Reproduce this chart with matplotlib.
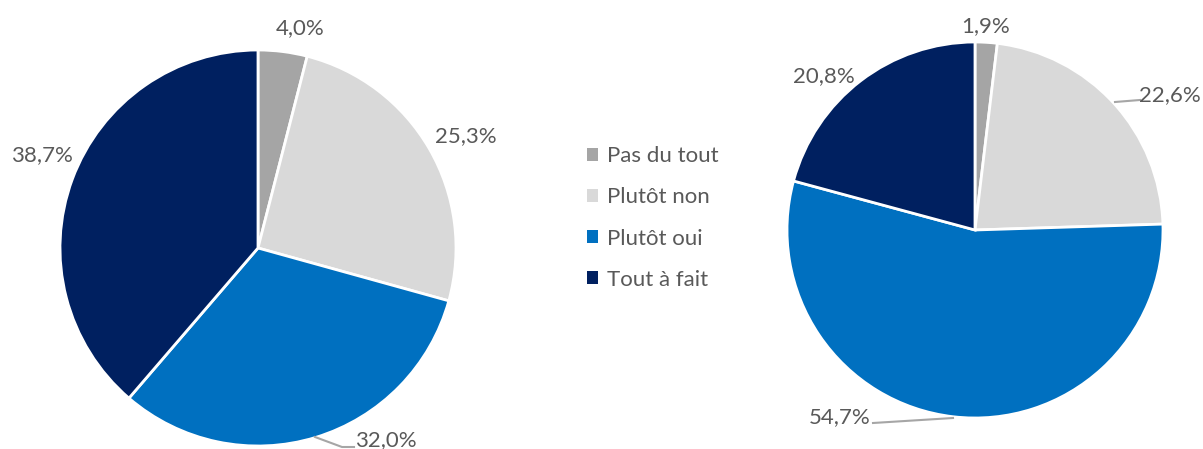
import matplotlib.pyplot as plt
from matplotlib.patches import Patch

plt.rcParams['font.family'] = ['Lato', 'DejaVu Sans']

categories = ["Pas du tout", "Plutôt non", "Plutôt oui", "Tout à fait"]
left_values = [4.0, 25.3, 32.0, 38.7]
right_values = [1.9, 22.6, 54.7, 20.8]
colors = ["#A5A5A5", "#D9D9D9", "#0070C0", "#002060"]
text_color = "#595959"

W, H = 1203, 449
fig = plt.figure(figsize=(W / 100, H / 100), dpi=100)


def px(x, y):
    # pixel position (top-left origin) -> figure fraction
    return x / W, 1 - y / H


def pie_axes(cx, cy, r):
    ax = fig.add_axes([(cx - r) / W, (H - cy - r) / H, 2 * r / W, 2 * r / H])
    return ax


def fmt(v):
    return f"{v:.1f}%".replace(".", ",")


# left pie
ax1 = pie_axes(258, 248, 198)
ax1.pie(left_values, colors=colors, startangle=90, counterclock=False,
        radius=1, wedgeprops=dict(edgecolor="white", linewidth=2))
ax1.set_xlim(-1, 1)
ax1.set_ylim(-1, 1)
ax1.set_aspect("auto")
ax1.axis("off")

# right pie
ax2 = pie_axes(975, 230, 188)
ax2.pie(right_values, colors=colors, startangle=90, counterclock=False,
        radius=1, wedgeprops=dict(edgecolor="white", linewidth=2))
ax2.set_xlim(-1, 1)
ax2.set_ylim(-1, 1)
ax2.set_aspect("auto")
ax2.axis("off")

# value labels (x centre, baseline y)
left_pos = [(300, 34), (466, 142), (386, 446), (42, 161)]
right_pos = [(986, 32), (1170, 101), (840, 423), (824, 82)]
for v, (x, y) in zip(left_values, left_pos):
    fig.text(*px(x, y), fmt(v), ha="center", va="baseline", fontsize=16, color=text_color)
for v, (x, y) in zip(right_values, right_pos):
    fig.text(*px(x, y), fmt(v), ha="center", va="baseline", fontsize=16, color=text_color)

# leader lines
leaders = [
    [(315, 437), (342, 447), (354, 447)],
    [(1115, 102), (1140, 100)],
    [(953, 418), (873, 423)],
]
for pts in leaders:
    xs = [px(x, y)[0] for x, y in pts]
    ys = [px(x, y)[1] for x, y in pts]
    fig.add_artist(plt.Line2D(xs, ys, color="#A6A6A6", linewidth=1.5,
                              transform=fig.transFigure))

# legend
handles = [Patch(facecolor=c, edgecolor="none") for c in colors]
fig.legend(handles, categories, loc="center left", bbox_to_anchor=px(587, 218),
           frameon=False, fontsize=16, labelcolor=text_color,
           borderpad=0, borderaxespad=0,
           handlelength=0.5, handleheight=0.5, handletextpad=0.4,
           labelspacing=0.95)

fig.savefig("out.png", dpi=100)
